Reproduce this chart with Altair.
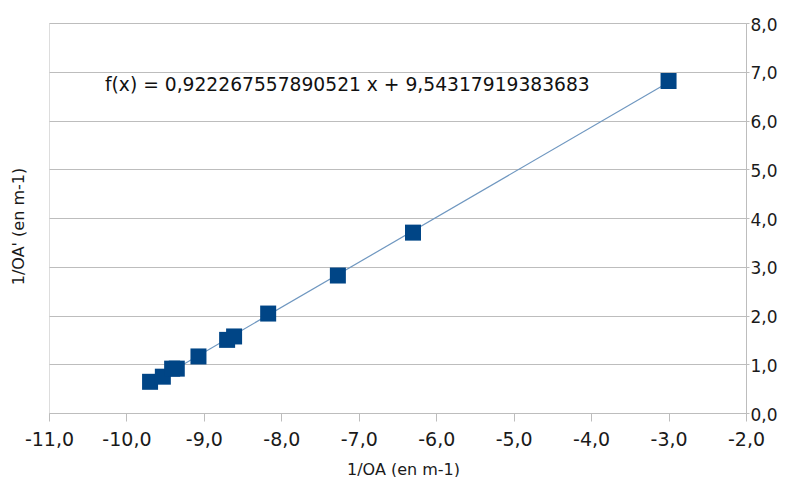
import altair as alt
import pandas as pd

inv_oa = [-9.695, -9.53, -9.41, -9.35, -9.07, -8.70, -8.61, -8.17, -7.27, -6.30, -3.00]
inv_oap = [0.64, 0.745, 0.91, 0.91, 1.16, 1.50, 1.57, 2.04, 2.82, 3.70, 6.81]
equation = "f(x) = 0,922267557890521 x + 9,54317919383683"

df = pd.DataFrame({"x": inv_oa, "y": inv_oap})

W, H = 697, 390
label_expr = "replace(replace(format(datum.value, '.1f'), '.', ','), '\u2212', '-')"
font = "DejaVu Sans"
gray = "#bdbdbd"
txt = "#1a1a1a"

xs = alt.X("x:Q", scale=alt.Scale(domain=[-11, -2], nice=False, zero=False),
           axis=alt.Axis(title="1/OA (en m-1)", values=list(range(-11, -1)),
                         labelExpr=label_expr, grid=False, domainColor=gray,
                         tickColor=gray, tickSize=8, labelFontSize=19, labelColor=txt,
                         labelFont=font, labelFlush=False, titleFont=font, titleFontSize=16,
                         titleFontWeight="normal", titleColor=txt,
                         titleX=354, titleY=61, titleBaseline="alphabetic",
                         titleAlign="center", labelPadding=9))
ys = alt.Y("y:Q", scale=alt.Scale(domain=[0, 8], nice=False),
           axis=alt.Axis(orient="right", title=None, values=list(range(0, 9)),
                         labelExpr=label_expr, grid=True, gridColor=gray,
                         domainColor=gray, tickColor=gray, tickSize=3,
                         labelFontSize=17, labelColor=txt, labelFont=font,
                         labelFlush=False, labelPadding=1, labelOffset=2))

base = alt.Chart(df)

line = base.transform_regression("x", "y", extent=[min(inv_oa), max(inv_oa)]).mark_line(
    color="#6f97c0", strokeWidth=1.2).encode(x=xs, y=ys)

pts = base.mark_square(size=256, color="#004586", opacity=1).encode(x="x:Q", y="y:Q")

eq = alt.Chart(pd.DataFrame({"t": [equation]})).mark_text(
    align="left", baseline="alphabetic", fontSize=18.7, font=font, color="#111").encode(
    text="t:N", x=alt.value(56), y=alt.value(68))

ytitle = alt.Chart(pd.DataFrame({"t": ["1/OA' (en m-1)"]})).mark_text(
    angle=270, align="center", baseline="middle", fontSize=16, font=font, color=txt).encode(
    text="t:N", x=alt.value(-30.5), y=alt.value(203.5))

chart = alt.layer(line, pts, eq, ytitle).properties(
    width=W, height=H,
    autosize=alt.AutoSizeParams(type="none"),
    padding={"left": 41, "top": 15, "right": 32, "bottom": 64},
).configure_view(stroke=None).configure(background="white")

chart.save("out.html", embed_options={"renderer": "svg", "actions": False})
